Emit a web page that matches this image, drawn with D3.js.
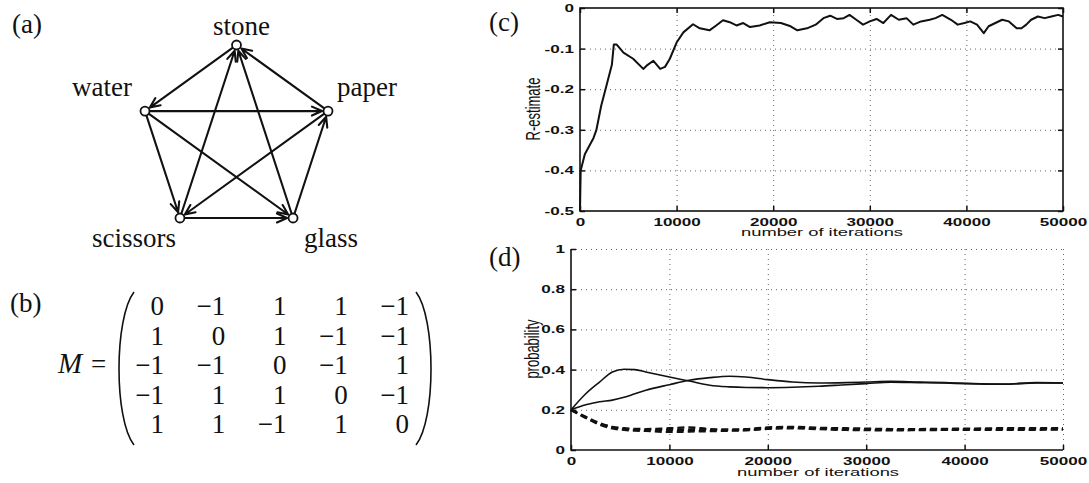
<!DOCTYPE html>
<html>
<head>
<meta charset="utf-8">
<script src="https://cdn.jsdelivr.net/npm/d3@7"></script>
<style>
  body { margin: 0; background: #fff; }
  svg { display: block; }
  .serif { font-family: "Liberation Serif", "Times New Roman", serif; fill: #111; }
  .sans { font-family: "Liberation Sans", Arial, sans-serif; fill: #111; }
  .tick text { font-family: "Liberation Sans", Arial, sans-serif; font-size: 11px; font-weight: bold; fill: #111; }
</style>
</head>
<body>
<svg id="fig" width="1089" height="483"></svg>
<script>
// ---------- data ----------
// (a) tournament graph: nodes around a pentagon, counter-clockwise from the top
const nodeNames = ["stone", "water", "scissors", "glass", "paper"];
const edges = [
  ["stone", "water"], ["paper", "stone"], ["water", "paper"], ["water", "scissors"],
  ["water", "glass"], ["scissors", "glass"], ["glass", "paper"], ["paper", "scissors"],
  ["scissors", "stone"], ["glass", "stone"]
];

// (b) payoff matrix
const matrixM = [
  [0, -1, 1, 1, -1],
  [1, 0, 1, -1, -1],
  [-1, -1, 0, -1, 1],
  [-1, 1, 1, 0, -1],
  [1, 1, -1, 1, 0]
];

// (c) R-estimate vs iterations
const cIter = [0, 70, 500, 1400, 1700, 2200, 2750, 3300, 3500, 3800,
  4500, 5500, 6550, 7000, 7600, 8300, 8800, 9300, 10000, 10700,
  11700, 12400, 13400, 14100, 14800, 15500, 16200, 16900, 17600, 18600,
  19650, 20800, 21800, 22500, 23500, 24400, 25200, 25900, 26600, 27300,
  27900, 28600, 29300, 30000, 30700, 31400, 32200, 33000, 33800, 34500,
  35300, 36200, 36800, 37500, 38400, 39100, 39800, 40400, 41100, 41800,
  42300, 43000, 43700, 44400, 45200, 45700, 46200, 46700, 47400, 48100,
  48800, 49500, 50000];
const cR = [-0.5, -0.4, -0.36, -0.32, -0.3, -0.24, -0.19, -0.14, -0.09, -0.09,
  -0.11, -0.125, -0.15, -0.14, -0.13, -0.15, -0.145, -0.125, -0.085, -0.06,
  -0.04, -0.05, -0.055, -0.043, -0.03, -0.035, -0.043, -0.037, -0.047, -0.043,
  -0.035, -0.037, -0.045, -0.055, -0.05, -0.041, -0.025, -0.019, -0.027, -0.025,
  -0.017, -0.029, -0.041, -0.033, -0.027, -0.037, -0.017, -0.029, -0.025, -0.041,
  -0.033, -0.029, -0.025, -0.017, -0.029, -0.041, -0.037, -0.033, -0.041, -0.062,
  -0.045, -0.037, -0.029, -0.033, -0.05, -0.05, -0.041, -0.029, -0.021, -0.025,
  -0.021, -0.017, -0.021];
const cXTicks = [0, 10000, 20000, 30000, 40000, 50000];
const cYTicks = [-0.5, -0.4, -0.3, -0.2, -0.1, 0];
const cYLabels = ["-0.5", "-0.4", "-0.3", "-0.2", "-0.1", "0"];

// (d) strategy probabilities vs iterations
const dIter = [0, 1500, 2900, 4200, 5400, 6500, 7600, 10000, 12000, 14100,
  16100, 17800, 20000, 22500, 25200, 28000, 30000, 32500, 35400, 38000,
  40000, 43900, 47300, 50000];
const dSolidA = [0.2, 0.28, 0.338, 0.388, 0.402, 0.4, 0.388, 0.363, 0.343, 0.322,
  0.314, 0.311, 0.31, 0.312, 0.317, 0.325, 0.33, 0.337, 0.335, 0.333,
  0.33, 0.327, 0.333, 0.333];
const dSolidB = [0.2, 0.225, 0.24, 0.248, 0.262, 0.28, 0.297, 0.325, 0.347, 0.36,
  0.367, 0.363, 0.35, 0.338, 0.333, 0.335, 0.338, 0.342, 0.338, 0.335,
  0.332, 0.328, 0.335, 0.333];
const dDashA = [0.2, 0.165, 0.134, 0.115, 0.108, 0.105, 0.104, 0.108, 0.112, 0.104,
  0.102, 0.104, 0.112, 0.115, 0.11, 0.108, 0.106, 0.104, 0.104, 0.105,
  0.106, 0.108, 0.108, 0.109];
const dDashB = [0.2, 0.162, 0.13, 0.112, 0.104, 0.1, 0.099, 0.1, 0.1, 0.099,
  0.099, 0.1, 0.108, 0.112, 0.107, 0.104, 0.102, 0.1, 0.101, 0.102,
  0.103, 0.104, 0.104, 0.105];
const dDashC = [0.2, 0.16, 0.127, 0.108, 0.1, 0.097, 0.095, 0.09, 0.092, 0.094,
  0.096, 0.098, 0.105, 0.108, 0.104, 0.1, 0.099, 0.098, 0.099, 0.1,
  0.1, 0.101, 0.101, 0.102];
const dXTicks = [0, 10000, 20000, 30000, 40000, 50000];
const dYTicks = [0, 0.2, 0.4, 0.6, 0.8, 1];
const dYLabels = ["0", "0.2", "0.4", "0.6", "0.8", "1"];

// ---------- helpers ----------
const svg = d3.select("#fig");
svg.append("rect").attr("width", 1089).attr("height", 483).attr("fill", "#fff");

// the scanned figure is stretched sideways, so widen the text to match
function stretch(sel, k) {
  sel.each(function () {
    const w = this.getComputedTextLength();
    d3.select(this).attr("textLength", w * k).attr("lengthAdjust", "spacingAndGlyphs");
  });
}

function panelLabel(text, x, y) {
  svg.append("text").attr("class", "serif").attr("x", x).attr("y", y)
    .style("font-size", "27px").text(text);
}

// =============================== //
// -->   (a) tournament graph  <-- //
// =============================== //
panelLabel("(a)", 12, 33);

const gx = d3.scaleLinear().domain([-0.951, 0.951]).range([145, 328]);
const gy = d3.scaleLinear().domain([-1, 0.809]).range([45, 218]);
const nodePos = {};
nodeNames.forEach((n, k) => {
  const a = (-90 - 72 * k) * Math.PI / 180;
  nodePos[n] = [gx(Math.cos(a)), gy(Math.sin(a))];
});

const nodeR = 4.5;
const gGraph = svg.append("g").attr("stroke", "#111").attr("stroke-width", 2.1).attr("fill", "none");
edges.forEach(([s, t]) => {
  const [x1, y1] = nodePos[s], [x2, y2] = nodePos[t];
  const len = Math.hypot(x2 - x1, y2 - y1);
  const ux = (x2 - x1) / len, uy = (y2 - y1) / len;
  const sx = x1 + ux * nodeR, sy = y1 + uy * nodeR;
  const ex = x2 - ux * (nodeR + 1.5), ey = y2 - uy * (nodeR + 1.5);
  const p = d3.path();
  p.moveTo(sx, sy); p.lineTo(ex, ey);
  const head = 11, ang = 24 * Math.PI / 180;
  [ang, -ang].forEach((da) => {
    const c = Math.cos(da), sn = Math.sin(da);
    const hx = -(ux * c - uy * sn), hy = -(ux * sn + uy * c);
    p.moveTo(ex, ey); p.lineTo(ex + hx * head, ey + hy * head);
  });
  gGraph.append("path").attr("d", p.toString()).attr("stroke-linecap", "round");
});

svg.append("g").selectAll("circle")
  .data(nodeNames)
  .join("circle")
  .attr("cx", (d) => nodePos[d][0])
  .attr("cy", (d) => nodePos[d][1])
  .attr("r", nodeR)
  .attr("fill", "#fff")
  .attr("stroke", "#111")
  .attr("stroke-width", 1.8);

const labelPlace = {
  stone: { dx: 5, dy: -10, anchor: "middle" },
  water: { dx: -13, dy: -15, anchor: "end" },
  paper: { dx: 9, dy: -15, anchor: "start" },
  scissors: { dx: -46, dy: 29, anchor: "middle" },
  glass: { dx: 38, dy: 29, anchor: "middle" }
};
svg.append("g").selectAll("text")
  .data(nodeNames)
  .join("text")
  .attr("class", "serif")
  .style("font-size", "27px")
  .attr("x", (d) => nodePos[d][0] + labelPlace[d].dx)
  .attr("y", (d) => nodePos[d][1] + labelPlace[d].dy)
  .attr("text-anchor", (d) => labelPlace[d].anchor)
  .text((d) => d);

// =============================== //
// -->    (b) payoff matrix    <-- //
// =============================== //
panelLabel("(b)", 10, 312);

svg.append("text").attr("class", "serif").attr("x", 58).attr("y", 373)
  .style("font-size", "29px").style("font-style", "italic").text("M");
svg.append("text").attr("class", "serif").attr("x", 91).attr("y", 373)
  .style("font-size", "27px").text("=");

const mCol = d3.scalePoint().domain(d3.range(5)).range([164, 409]);
const mRow = d3.scalePoint().domain(d3.range(5)).range([315, 433]);
svg.append("g").selectAll("g")
  .data(matrixM)
  .join("g")
  .selectAll("text")
  .data((row, i) => row.map((v, j) => ({ v, i, j })))
  .join("text")
  .attr("class", "serif")
  .style("font-size", "27px")
  .attr("text-anchor", "end")
  .attr("x", (d) => mCol(d.j))
  .attr("y", (d) => mRow(d.i))
  .text((d) => (d.v < 0 ? "\u2212" + Math.abs(d.v) : String(d.v)));

// brackets
svg.append("path").attr("d", "M134,292 C114,318 114,420 134,445")
  .attr("fill", "none").attr("stroke", "#111").attr("stroke-width", 1.6);
svg.append("path").attr("d", "M416,292 C436,318 436,420 416,445")
  .attr("fill", "none").attr("stroke", "#111").attr("stroke-width", 1.6);

// =============================== //
// -->   shared axis drawing   <-- //
// =============================== //
function drawGrid(x, y, xt, yt) {
  const [y0, y1] = y.range();
  const [x0, x1] = x.range();
  const g = svg.append("g").attr("class", "grid");
  g.append("g")
    .attr("transform", `translate(0,${y0})`)
    .call(d3.axisBottom(x).tickValues(xt).tickSize(-(y0 - y1)).tickFormat(""))
    .call((g) => g.select(".domain").remove());
  g.append("g")
    .attr("transform", `translate(${x0},0)`)
    .call(d3.axisLeft(y).tickValues(yt).tickSize(-(x1 - x0)).tickFormat(""))
    .call((g) => g.select(".domain").remove());
  g.selectAll("line").attr("stroke", "#333").attr("stroke-width", 1)
    .attr("stroke-dasharray", "1,4").attr("opacity", 0.75);
}

function drawAxes(x, y, xt, yt, yLabels, box) {
  const [y0, y1] = y.range();
  const [x0, x1] = x.range();
  const bottom = svg.append("g")
    .attr("transform", `translate(0,${y0})`)
    .call(d3.axisBottom(x).tickValues(xt).tickSize(-5).tickPadding(7).tickFormat(d3.format("d")));
  const left = svg.append("g")
    .attr("transform", `translate(${x0},0)`)
    .call(d3.axisLeft(y).tickValues(yt).tickSize(-5).tickPadding(6).tickFormat((d, i) => yLabels[i]));
  [bottom, left].forEach((a) => {
    a.select(".domain").remove();
    a.selectAll(".tick line").attr("stroke", "#111").attr("stroke-width", 1.5);
    stretch(a.selectAll(".tick text"), 1.55);
  });
  if (box) {
    svg.append("g")
      .attr("transform", `translate(0,${y1})`)
      .call(d3.axisTop(x).tickValues(xt).tickSize(-5).tickFormat(""))
      .call((g) => g.select(".domain").remove())
      .selectAll("line").attr("stroke", "#111").attr("stroke-width", 1.5);
    svg.append("g")
      .attr("transform", `translate(${x1},0)`)
      .call(d3.axisRight(y).tickValues(yt).tickSize(-5).tickFormat(""))
      .call((g) => g.select(".domain").remove())
      .selectAll("line").attr("stroke", "#111").attr("stroke-width", 1.5);
    svg.append("rect").attr("x", x0).attr("y", y1).attr("width", x1 - x0).attr("height", y0 - y1)
      .attr("fill", "none").attr("stroke", "#111").attr("stroke-width", 1.6);
  } else {
    svg.append("path").attr("d", `M${x0},${y1}V${y0}H${x1}`)
      .attr("fill", "none").attr("stroke", "#111").attr("stroke-width", 1.6);
  }
}

function xTitle(text, x, y) {
  svg.append("text").attr("class", "sans").attr("x", x).attr("y", y)
    .attr("text-anchor", "middle").style("font-size", "11px")
    .attr("textLength", 162).attr("lengthAdjust", "spacingAndGlyphs").text(text);
}

function yTitle(text, x, y) {
  svg.append("text").attr("class", "sans")
    .attr("transform", `translate(${x},${y}) rotate(-90) scale(1,1.5)`)
    .attr("text-anchor", "middle").style("font-size", "13px").text(text);
}

// =============================== //
// -->    (c) R-estimate       <-- //
// =============================== //
panelLabel("(c)", 489, 31);

const xc = d3.scaleLinear().domain([0, 50000]).range([580, 1063]);
const yc = d3.scaleLinear().domain([-0.5, 0]).range([211, 8]);

drawGrid(xc, yc, cXTicks.slice(1, -1), cYTicks.slice(1, -1));

const lineC = d3.line().x((d) => xc(d[0])).y((d) => yc(d[1]));
svg.append("path")
  .datum(cIter.map((d, i) => [d, cR[i]]))
  .attr("d", lineC)
  .attr("fill", "none")
  .attr("stroke", "#111")
  .attr("stroke-width", 2)
  .attr("stroke-linejoin", "round");

drawAxes(xc, yc, cXTicks, cYTicks, cYLabels, true);
xTitle("number of iterations", 822, 236);
yTitle("R-estimate", 540, 109);

// =============================== //
// -->    (d) probabilities    <-- //
// =============================== //
panelLabel("(d)", 489, 266);

const xd = d3.scaleLinear().domain([0, 50000]).range([571, 1063]);
const yd = d3.scaleLinear().domain([0, 1]).range([450, 249]);

drawGrid(xd, yd, dXTicks.slice(1), dYTicks.slice(1));

const lineD = d3.line().x((d) => xd(d[0])).y((d) => yd(d[1])).curve(d3.curveMonotoneX);
const dSeries = [
  { values: dSolidA, dash: null, width: 1.6 },
  { values: dSolidB, dash: null, width: 1.6 },
  { values: dDashA, dash: "7,4", width: 2.4 },
  { values: dDashB, dash: "7,4", width: 2.4 },
  { values: dDashC, dash: "7,4", width: 2.4 }
];
svg.append("g").selectAll("path")
  .data(dSeries)
  .join("path")
  .attr("d", (s) => lineD(dIter.map((d, i) => [d, s.values[i]])))
  .attr("fill", "none")
  .attr("stroke", "#111")
  .attr("stroke-width", (s) => s.width)
  .attr("stroke-dasharray", (s) => s.dash);

drawAxes(xd, yd, dXTicks, dYTicks, dYLabels, false);
xTitle("number of iterations", 818, 476);
yTitle("probability", 539, 349);
</script>
</body>
</html>
